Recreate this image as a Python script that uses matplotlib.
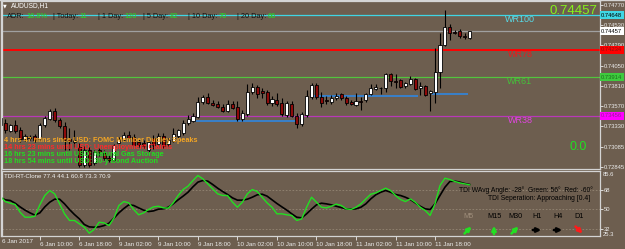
import numpy as np
import matplotlib
matplotlib.use("Agg")
import matplotlib.pyplot as plt
import matplotlib.transforms as mtransforms

# ---------------------------------------------------------------------------
# Data (AUDUSD H1, 6 Jan 02:00 .. 12 Jan 01:00)
# ---------------------------------------------------------------------------

OPEN = [
    0.73346, 0.73370, 0.73275, 0.73346, 0.73287, 0.73180, 0.73204, 0.73216, 0.73180, 0.73346,
    0.73417, 0.73512, 0.73405, 0.73334, 0.73180, 0.73145, 0.73086, 0.72872, 0.73050, 0.72896,
    0.73050, 0.73014, 0.72955, 0.72932, 0.73133, 0.73168, 0.73228, 0.73204, 0.73145, 0.73133,
    0.73050, 0.73192, 0.73121, 0.73216, 0.73121, 0.73157, 0.73216, 0.73251, 0.73370, 0.73393,
    0.73441, 0.73618, 0.73677, 0.73606, 0.73595, 0.73559, 0.73512, 0.73595, 0.73559, 0.73417,
    0.73476, 0.73737, 0.73796, 0.73748, 0.73737, 0.73606, 0.73642, 0.73606, 0.73464, 0.73595,
    0.73453, 0.73358, 0.73464, 0.73677, 0.73820, 0.73677, 0.73642, 0.73618, 0.73666, 0.73713,
    0.73666, 0.73618, 0.73583, 0.73630, 0.73642, 0.73713, 0.73772, 0.73784, 0.73784, 0.73950,
    0.73867, 0.73879, 0.73808, 0.73831, 0.73891, 0.73784, 0.73808, 0.73725, 0.73737, 0.73974,
    0.74293, 0.74506, 0.74447, 0.74459, 0.74400, 0.74376,
]
HIGH = [
    0.73453, 0.73417, 0.73358, 0.73405, 0.73322, 0.73239, 0.73228, 0.73239, 0.73370, 0.73453,
    0.73535, 0.73547, 0.73429, 0.73381, 0.73310, 0.73287, 0.73133, 0.73097, 0.73086, 0.73050,
    0.73074, 0.73050, 0.72991, 0.73121, 0.73204, 0.73263, 0.73275, 0.73239, 0.73180, 0.73168,
    0.73168, 0.73228, 0.73251, 0.73251, 0.73192, 0.73310, 0.73299, 0.73405, 0.73464, 0.73488,
    0.73677, 0.73701, 0.73725, 0.73642, 0.73630, 0.73595, 0.73642, 0.73630, 0.73630, 0.73524,
    0.73831, 0.73843, 0.73820, 0.73784, 0.73760, 0.73689, 0.73725, 0.73666, 0.73630, 0.73630,
    0.73488, 0.73500, 0.73760, 0.73843, 0.73843, 0.73737, 0.73689, 0.73701, 0.73725, 0.73725,
    0.73689, 0.73642, 0.73725, 0.73677, 0.73725, 0.73831, 0.73831, 0.73796, 0.73962, 0.73962,
    0.73950, 0.73891, 0.73855, 0.73926, 0.73903, 0.73855, 0.73820, 0.73760, 0.74258, 0.74435,
    0.74708, 0.74542, 0.74471, 0.74483, 0.74435, 0.74459,
]
LOW = [
    0.73310, 0.73251, 0.73263, 0.73251, 0.73145, 0.73157, 0.73168, 0.73145, 0.73168, 0.73322,
    0.73405, 0.73381, 0.73310, 0.73050, 0.73050, 0.73086, 0.72849, 0.72849, 0.72849, 0.72872,
    0.72979, 0.72932, 0.72908, 0.72920, 0.73109, 0.73157, 0.73168, 0.73086, 0.73086, 0.73074,
    0.73026, 0.73062, 0.73097, 0.73074, 0.73097, 0.73145, 0.73192, 0.73228, 0.73346, 0.73381,
    0.73429, 0.73595, 0.73595, 0.73571, 0.73547, 0.73500, 0.73500, 0.73535, 0.73393, 0.73393,
    0.73453, 0.73713, 0.73666, 0.73666, 0.73583, 0.73571, 0.73571, 0.73453, 0.73441, 0.73441,
    0.73310, 0.73334, 0.73441, 0.73654, 0.73654, 0.73559, 0.73595, 0.73595, 0.73642, 0.73642,
    0.73583, 0.73583, 0.73571, 0.73524, 0.73618, 0.73701, 0.73760, 0.73713, 0.73737, 0.73808,
    0.73784, 0.73784, 0.73784, 0.73820, 0.73760, 0.73701, 0.73689, 0.73512, 0.73606, 0.73784,
    0.74281, 0.74352, 0.74423, 0.74376, 0.74364, 0.74364,
]
CLOSE = [
    0.73429, 0.73287, 0.73346, 0.73275, 0.73180, 0.73216, 0.73192, 0.73168, 0.73346, 0.73429,
    0.73512, 0.73405, 0.73334, 0.73168, 0.73157, 0.73168, 0.72872, 0.73050, 0.72872, 0.73026,
    0.73026, 0.72955, 0.72932, 0.73109, 0.73180, 0.73228, 0.73192, 0.73109, 0.73109, 0.73097,
    0.73145, 0.73109, 0.73216, 0.73097, 0.73168, 0.73239, 0.73287, 0.73370, 0.73417, 0.73453,
    0.73618, 0.73677, 0.73606, 0.73583, 0.73559, 0.73512, 0.73595, 0.73547, 0.73417, 0.73488,
    0.73737, 0.73796, 0.73713, 0.73725, 0.73606, 0.73654, 0.73595, 0.73476, 0.73606, 0.73453,
    0.73358, 0.73476, 0.73689, 0.73820, 0.73677, 0.73606, 0.73630, 0.73666, 0.73689, 0.73666,
    0.73606, 0.73595, 0.73630, 0.73618, 0.73713, 0.73784, 0.73796, 0.73786, 0.73950, 0.73867,
    0.73855, 0.73796, 0.73843, 0.73891, 0.73772, 0.73808, 0.73701, 0.73748, 0.73974, 0.74293,
    0.74506, 0.74435, 0.74435, 0.74400, 0.74388, 0.74457,
]

TDI_GREEN = [
    62.0, 57.0, 55.5, 54.3, 47.2, 42.6, 42.6, 43.5, 54.0, 62.6,
    67.2, 64.1, 54.9, 45.7, 39.6, 39.6, 36.5, 33.4, 27.9, 31.3,
    38.0, 37.4, 34.9, 41.7, 53.4, 57.0, 55.8, 49.7, 44.8, 46.6,
    49.7, 52.1, 52.7, 51.2, 50.9, 55.8, 62.6, 68.1, 71.2, 76.4,
    81.0, 77.9, 73.3, 68.7, 64.1, 62.6, 62.6, 56.4, 51.8, 56.4,
    64.1, 68.1, 66.3, 61.0, 55.8, 51.8, 45.7, 45.7, 44.8, 44.2,
    39.6, 41.0, 51.8, 61.0, 56.4, 51.8, 51.2, 52.7, 54.6, 53.4,
    50.3, 49.7, 51.8, 54.9, 59.5, 63.8, 65.0, 67.2, 69.3, 67.2,
    62.6, 58.9, 57.0, 59.5, 56.4, 51.8, 48.8, 44.2, 54.9, 71.8,
    78.5, 77.3, 75.5, 74.2, 73.3, 72.4,
]
TDI_SIGNAL = [
    61.0, 58.6, 58.0, 55.5, 52.1, 49.1, 46.6, 44.5, 46.6, 52.1,
    56.4, 59.2, 59.2, 54.9, 49.7, 45.1, 41.1, 35.9, 33.7, 33.4,
    33.7, 34.9, 37.1, 41.7, 46.6, 50.6, 54.0, 53.4, 51.2, 49.1,
    47.8, 48.4, 50.0, 50.3, 51.8, 54.9, 58.6, 62.0, 65.6, 70.6,
    74.9, 76.4, 75.8, 72.7, 69.3, 66.3, 63.5, 60.4, 58.3, 58.3,
    59.2, 61.0, 63.2, 63.8, 62.0, 58.6, 55.2, 52.1, 49.1, 45.7,
    42.6, 42.0, 45.7, 50.0, 54.0, 55.5, 54.9, 54.0, 52.7, 51.5,
    50.3, 50.0, 50.3, 51.8, 54.9, 59.5, 63.2, 65.6, 67.2, 65.6,
    63.5, 62.6, 61.0, 58.9, 55.8, 52.7, 50.3, 49.7, 54.9, 62.6,
    70.2, 75.5, 75.8, 74.9, 73.6, 72.7,
]

DATE_TICK_BARS = [8, 16, 24, 32, 40, 48, 56, 64, 72, 80, 88]
DATE_LABELS = ["6 Jan 10:00", "6 Jan 18:00", "9 Jan 02:00", "9 Jan 10:00",
               "9 Jan 18:00", "10 Jan 02:00", "10 Jan 10:00", "10 Jan 18:00",
               "11 Jan 02:00", "11 Jan 10:00", "11 Jan 18:00"]
FIRST_DATE = "6 Jan 2017"

PRICE_TICKS = [0.74770, 0.74530, 0.74290, 0.74050, 0.73810,
               0.73570, 0.73330, 0.73085, 0.72845]
TDI_LEVELS = [68, 50, 32]
TDI_MAX, TDI_MIN = 85.6, 25.3

BID = 0.74457
WR_NAMES = ["WR100", "WR78", "WR61", "WR38"]
WR_PRICES = [0.74648, 0.74234, 0.73914, 0.73456]

SUPPORT_START = [39.2, 63.4, 87.4]
SUPPORT_END = [60.0, 84.6, 94.7]
SUPPORT_PRICE = [0.73399, 0.73689, 0.73709]

ADR_LABELS = ["ADR:", "| Today:", "| 1 Day:", "| 5 Day:", "| 10 Day:", "| 20 Day:"]
ADR_VALUES = ["16.8%", "11", "120", "82", "70", "66"]

NEWS = [
    "4 hrs 47 mins since USD: FOMC Member Dudley Speaks",
    "14 hrs 23 mins until USD: Unemployment Claims",
    "16 hrs 23 mins until USD: Natural Gas Storage",
    "18 hrs 54 mins until USD: 30-y Bond Auction",
]

TF_NAMES = ["M5", "M15", "M30", "H1", "H4", "D1"]
TF_DIRS = ["ne", "up", "ne", "right", "right", "se"]

# ---------------------------------------------------------------------------
# Style
# ---------------------------------------------------------------------------

W, H = 625, 249
BG = "#6d5e4f"
FRAME = "#d4d4d4"
AXTXT = "#ececec"
BULL, BEAR = "#ffffff", "#8e0a0a"
WR_LINE = ["#3fd6e4", "#ff0000", "#52c43e", "#b838b8"]
WR_TEXT = ["#58dcea", "#e81c1c", "#44c23a", "#e444e4"]
NEWS_COLORS = ["#f5a623", "#ff2a2a", "#22dd22", "#22dd22"]
GREEN = "#22e022"
TF_COLORS = {"ne": GREEN, "up": GREEN, "right": "black", "se": "#ff1a1a"}
ARROW_VEC = {"ne": (1, 1), "up": (0, 1.2), "right": (1.2, 0), "se": (1, -1)}

plt.rcParams["font.family"] = ["Liberation Sans", "DejaVu Sans"]

BAR_PX = 4.94          # pixels per bar
X0 = 0.34              # bar index at left edge of panes
X1 = X0 + 598 / BAR_PX


def fx(px):
    return px / W


def fy(py):
    return 1 - py / H


def main() -> None:
    fig = plt.figure(figsize=(W / 100, H / 100), dpi=100, facecolor=BG)
    renderer = fig.canvas.get_renderer()

    ax = fig.add_axes([fx(2), fy(168.5), 598 / W, 167.5 / H], facecolor=BG)
    ax2 = fig.add_axes([fx(2), fy(236), 598 / W, 65.5 / H], facecolor=BG)

    for a in (ax, ax2):
        a.set_xlim(X0, X1)
        for s in a.spines.values():
            s.set_color(FRAME)
            s.set_linewidth(0.9)

    # ---------------- price pane ----------------
    ax.set_ylim(0.72831, 0.74814)

    for price, col in zip(WR_PRICES, WR_LINE):
        ax.axhline(price, color=col, lw=1.4 if col == "#ff0000" else 0.9, zorder=1)
    ax.axhline(BID, color="#a0a0a0", lw=0.9, zorder=1)

    for s, e, p in zip(SUPPORT_START, SUPPORT_END, SUPPORT_PRICE):
        ax.hlines(p, s, e, color="#2f86e0", lw=1.2, zorder=2)

    o, h, l, c = map(np.array, (OPEN, HIGH, LOW, CLOSE))
    idx = np.arange(len(o))
    up = c >= o
    ax.vlines(idx, l, h, color="black", lw=0.8, zorder=3)
    bottom = np.minimum(o, c)
    height = np.maximum(np.abs(c - o), 0.00002)
    ax.bar(idx, height, bottom=bottom, width=0.62,
           color=np.where(up, BULL, BEAR), edgecolor="black", linewidth=0.6, zorder=4)

    blend = mtransforms.blended_transform_factory(ax.transAxes, ax.transData)
    for name, price, col in zip(WR_NAMES, WR_PRICES, WR_TEXT):
        ax.text((520 - 2) / 598, price, name, transform=blend, color=col,
                fontsize=6.5, ha="center", va="top", zorder=6)

    # right price scale
    ax.yaxis.tick_right()
    ax.set_yticks(PRICE_TICKS)
    ax.set_yticklabels([f"{v:.5f}" for v in PRICE_TICKS])
    ax.tick_params(axis="y", colors=AXTXT, labelsize=4.2, length=2, pad=0.8, width=0.6)
    ax.set_xticks([])

    tags = [(WR_PRICES[0], WR_LINE[0], "black"), (BID, "#ffffff", "black"),
            (WR_PRICES[1], "#ff0000", "#8a1010"), (WR_PRICES[2], "#3ecb3e", "#1d701d"),
            (WR_PRICES[3], "#ff00ff", "#9a1a9a")]
    for price, fc, tc in tags:
        ax.text(1.002, price, f"{price:.5f}", transform=blend, fontsize=4.2,
                color=tc, ha="left", va="center", clip_on=False, zorder=7,
                bbox=dict(boxstyle="square,pad=0.25", fc=fc, ec="none"))

    # ---------------- indicator pane ----------------
    ax2.set_ylim(TDI_MIN, TDI_MAX)
    for lv in TDI_LEVELS:
        ax2.axhline(lv, color="#948674", lw=0.6, ls=(0, (2, 2)), zorder=1)
    ax2.plot(idx, TDI_GREEN, color=GREEN, lw=1.0, zorder=3)
    ax2.plot(idx, TDI_SIGNAL, color="black", lw=1.2, zorder=2)

    ax2.yaxis.tick_right()
    ax2.set_yticks(TDI_LEVELS)
    ax2.set_yticklabels([str(v) for v in TDI_LEVELS])
    ax2.tick_params(axis="y", colors=AXTXT, labelsize=4.2, length=2, pad=0.8, width=0.6)
    fig.text(fx(603), fy(175), f"{TDI_MAX}", fontsize=4.2, color=AXTXT, va="center")
    fig.text(fx(603), fy(234), f"{TDI_MIN}", fontsize=4.2, color=AXTXT, va="center")

    ax2.set_xticks(DATE_TICK_BARS)
    ax2.set_xticklabels(DATE_LABELS)
    ax2.tick_params(axis="x", colors=AXTXT, labelsize=4.5, length=3, pad=1.5, width=0.6)
    for t in ax2.get_xticklabels():
        t.set_ha("left")
    fig.text(fx(2), fy(241), FIRST_DATE, fontsize=4.5, color=AXTXT, va="center")

    # ---------------- overlay texts ----------------
    fig.text(fx(3), fy(6), "\u25bc", fontsize=3.5, color="white", va="center",
             family="DejaVu Sans")
    fig.text(fx(11), fy(6), "AUDUSD,H1", fontsize=4.8, color="white", va="center")

    # ADR line: each label at its place, value right after it
    lab_x = [7, 53, 98, 143, 188, 237]
    for lab, val, lx in zip(ADR_LABELS, ADR_VALUES, lab_x):
        t = fig.text(fx(lx), fy(16), lab, fontsize=5.3, color="#111111", va="center")
        end = t.get_window_extent(renderer).x1
        fig.text(end / W + 1.5 / W, fy(16), val, fontsize=5.3, color=GREEN, va="center")

    fig.text(fx(597), fy(11), f"{BID:.5f}", fontsize=9.5, color="#84f21a",
             ha="right", va="center")
    fig.text(fx(578), fy(147), "0.0", fontsize=9, color=GREEN, ha="center", va="center")

    for k, (line, col) in enumerate(zip(NEWS, NEWS_COLORS)):
        fig.text(fx(4), fy(140 + 7.3 * k), line, fontsize=5.2, color=col,
                 fontweight="bold", va="center", zorder=10)

    fig.text(fx(4), fy(176), "TDI-RT-Clone 77.4 44.1 60.8 73.3 70.9",
             fontsize=4.4, color="#f2f2f2", va="center")
    fig.text(fx(593), fy(190), "TDI WAvg Angle: -28\u00b0  Green: 56\u00b0  Red: -60\u00b0",
             fontsize=4.9, color="black", ha="right", va="center")
    fig.text(fx(590), fy(199), "TDI Seperation: Approaching [0.4]",
             fontsize=4.9, color="black", ha="right", va="center")

    tf_x = [468, 494, 515, 537, 558, 579]
    for name, d, x in zip(TF_NAMES, TF_DIRS, tf_x):
        col = "#a08f7c" if name == "M5" else "black"
        fig.text(fx(x), fy(217), name, fontsize=5.2, color=col, ha="center", va="center")
        dx, dy = ARROW_VEC[d]
        cx, cy = x, H - 230
        ax2.annotate("", xy=(cx + 3.5 * dx, cy + 3.5 * dy),
                     xytext=(cx - 3.5 * dx, cy - 3.5 * dy),
                     xycoords="figure pixels", textcoords="figure pixels",
                     arrowprops=dict(arrowstyle="-|>", color=TF_COLORS[d], lw=1.8,
                                     mutation_scale=6, shrinkA=0, shrinkB=0),
                     annotation_clip=False)

    # window border
    fig.add_artist(plt.Line2D([0, 1], [fy(0.5), fy(0.5)], color=FRAME, lw=1.0))
    fig.add_artist(plt.Line2D([fx(0.5), fx(0.5)], [fy(236), 1], color=FRAME, lw=1.0))

    fig.savefig("out.png", dpi=100, facecolor=BG)
    plt.close(fig)


if __name__ == "__main__":
    main()
